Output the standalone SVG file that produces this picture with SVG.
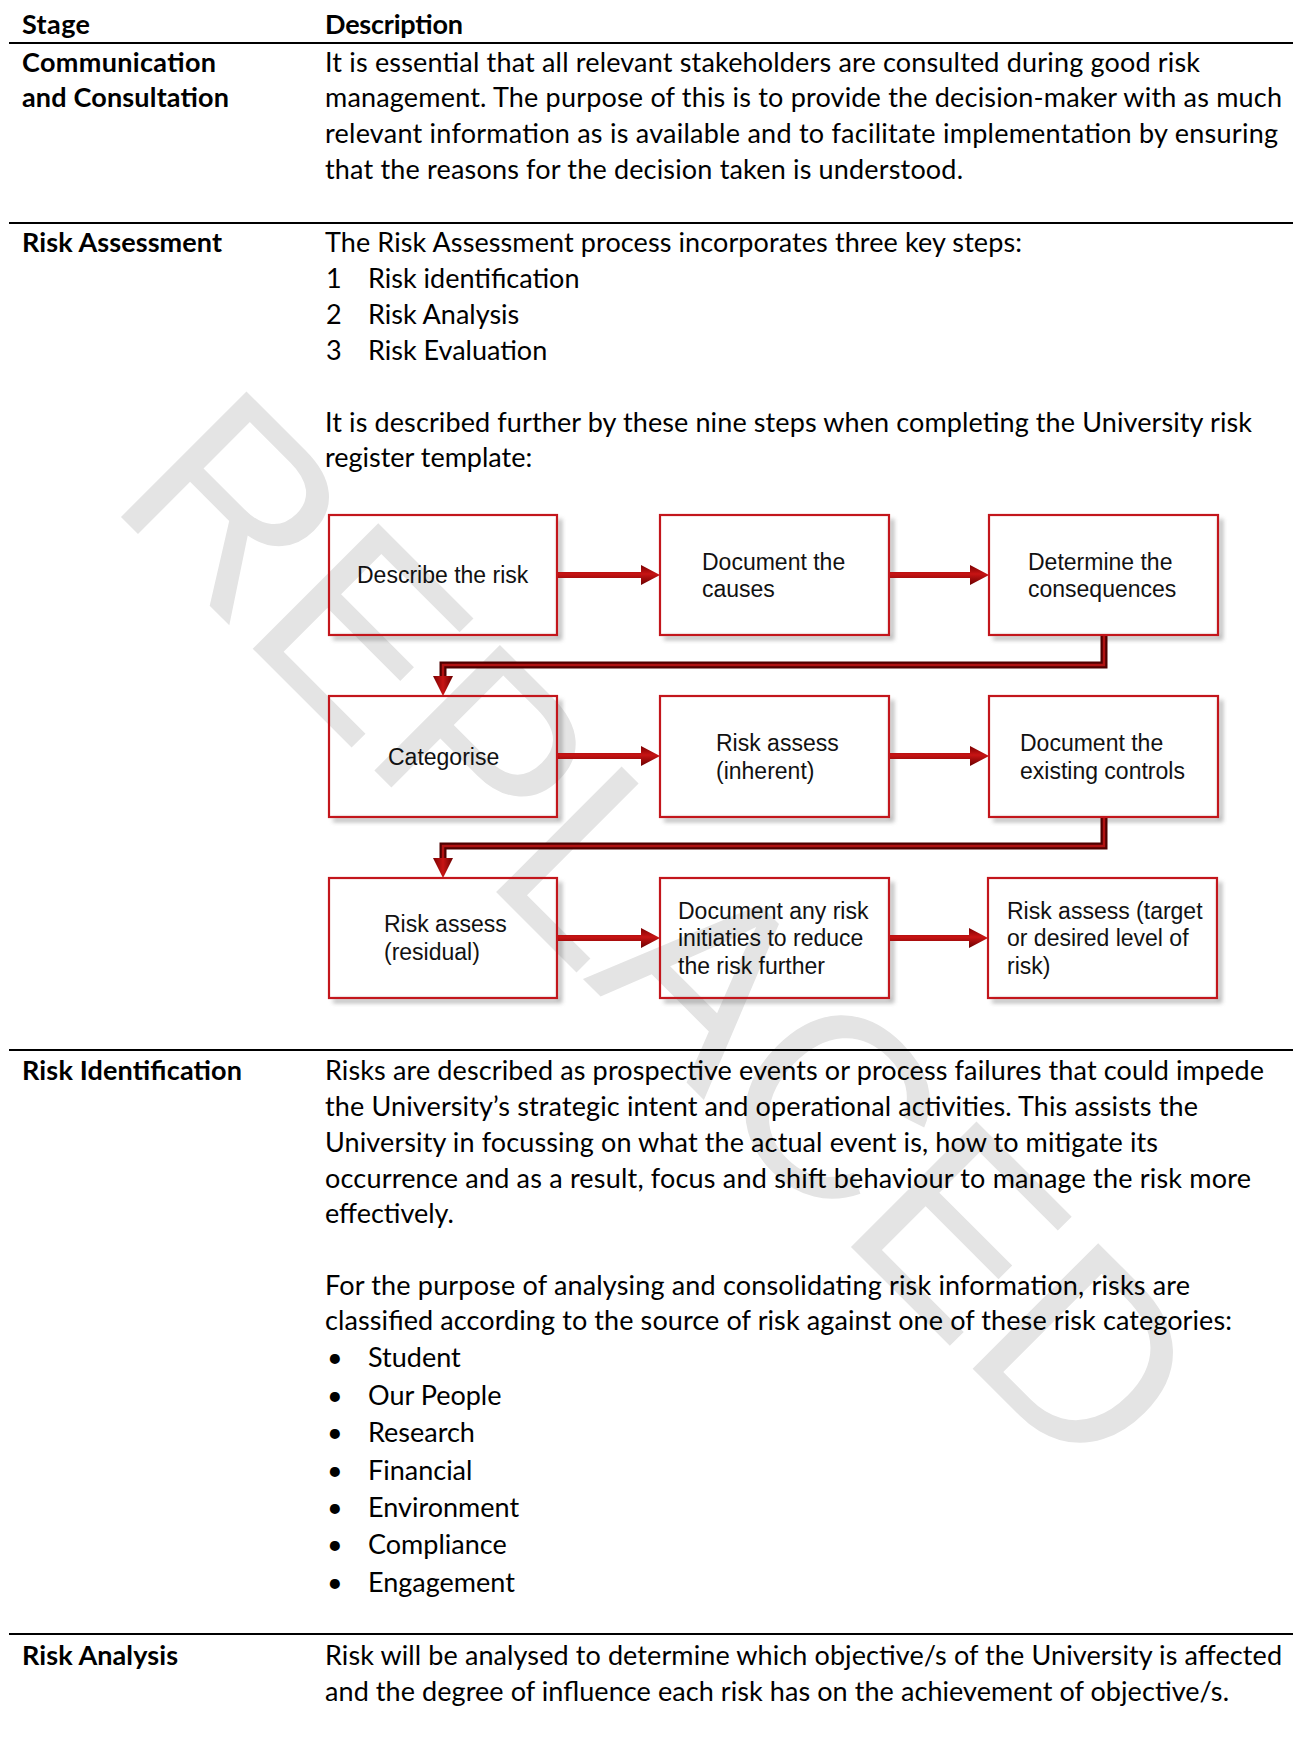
<svg xmlns="http://www.w3.org/2000/svg" width="1293" height="1738" viewBox="0 0 1293 1738">
<style>
.t{font-family:Lato,"Liberation Sans",sans-serif;font-size:27px;fill:#000}
.b{font-weight:700}
.bx{font-family:"Liberation Sans",Arial,sans-serif;font-size:23px;fill:#111}
.rule{stroke:#000;stroke-width:2.2}
.box{fill:none;stroke:#c3161c;stroke-width:2.2}
.shd{fill:none;stroke:#777;stroke-width:4;opacity:.55;filter:url(#blur)}
.arr{fill:url(#ag)}
.elo{fill:none;stroke:#4e0000;stroke-width:7;stroke-linejoin:miter}
.eli{fill:none;stroke:#b01212;stroke-width:2.5;stroke-linejoin:miter}
.wm{font-family:"Liberation Sans",Arial,sans-serif;font-size:258px;fill:#e4e4e4}
</style>
<defs>
<filter id="blur" x="-10%" y="-10%" width="120%" height="120%"><feGaussianBlur stdDeviation="2"/></filter>
<linearGradient id="ag" x1="0" y1="0" x2="0" y2="1">
<stop offset="0" stop-color="#7a0000"/>
<stop offset="0.45" stop-color="#c81414"/>
<stop offset="1" stop-color="#6a0000"/>
</linearGradient>
<linearGradient id="dg" x1="0" y1="0" x2="1" y2="0">
<stop offset="0" stop-color="#7a0000"/>
<stop offset="0.5" stop-color="#c81414"/>
<stop offset="1" stop-color="#6a0000"/>
</linearGradient>
</defs>
<rect width="1293" height="1738" fill="#fff"/>

<g id="watermark">
<text class="wm" transform="translate(106,502) rotate(45)">REPLACED</text>
</g>

<g id="table-rules">
<line class="rule" x1="9" y1="43" x2="1293" y2="43"/>
<line class="rule" x1="9" y1="223" x2="1293" y2="223"/>
<line class="rule" x1="9" y1="1050" x2="1293" y2="1050"/>
<line class="rule" x1="9" y1="1634" x2="1293" y2="1634"/>
</g>

<g id="header">
<text class="t b" x="22" y="34" textLength="68">Stage</text>
<text class="t b" x="325" y="34" textLength="138">Description</text>
</g>

<g id="row-communication">
<text class="t b" x="22" y="72" textLength="194">Communication</text>
<text class="t b" x="22" y="107" textLength="207">and Consultation</text>
<text class="t" x="325" y="72" textLength="875">It is essential that all relevant stakeholders are consulted during good risk</text>
<text class="t" x="325" y="107" textLength="957">management. The purpose of this is to provide the decision-maker with as much</text>
<text class="t" x="325" y="143" textLength="953">relevant information as is available and to facilitate implementation by ensuring</text>
<text class="t" x="325" y="179" textLength="638">that the reasons for the decision taken is understood.</text>
</g>

<g id="row-assessment">
<text class="t b" x="22" y="252" textLength="200">Risk Assessment</text>
<text class="t" x="325" y="252" textLength="697">The Risk Assessment process incorporates three key steps:</text>
<text class="t" x="326" y="288">1</text>
<text class="t" x="368" y="288">Risk identification</text>
<text class="t" x="326" y="324">2</text>
<text class="t" x="368" y="324">Risk Analysis</text>
<text class="t" x="326" y="360">3</text>
<text class="t" x="368" y="360">Risk Evaluation</text>
<text class="t" x="325" y="432" textLength="927">It is described further by these nine steps when completing the University risk</text>
<text class="t" x="325" y="467">register template:</text>
</g>

<g id="shadows">
<path class="shd" d="M333,638 H560 V519"/>
<path class="shd" d="M664,638 H892 V519"/>
<path class="shd" d="M993,638 H1221 V519"/>
<path class="shd" d="M333,820 H560 V700"/>
<path class="shd" d="M664,820 H892 V700"/>
<path class="shd" d="M993,820 H1221 V700"/>
<path class="shd" d="M333,1001 H560 V882"/>
<path class="shd" d="M664,1001 H892 V882"/>
<path class="shd" d="M992,1001 H1220 V882"/>
</g>

<g id="connectors">
<path class="arr" d="M557,572 H641 V565 L660,575 L641,585 V578 H557 Z"/>
<path class="arr" d="M889,572 H970 V565 L989,575 L970,585 V578 H889 Z"/>
<path class="arr" d="M557,753 H641 V746 L660,756 L641,766 V759 H557 Z"/>
<path class="arr" d="M889,753 H970 V746 L989,756 L970,766 V759 H889 Z"/>
<path class="arr" d="M557,935 H641 V928 L660,938 L641,948 V941 H557 Z"/>
<path class="arr" d="M889,935 H969 V928 L988,938 L969,948 V941 H889 Z"/>
<path class="elo" d="M1104,635 V665 H443 V678"/>
<path class="eli" d="M1104,635 V665 H443 V678"/>
<path fill="url(#dg)" d="M433,676 H453 L443,696 Z"/>
<path class="elo" d="M1104,817 V846 H443 V860"/>
<path class="eli" d="M1104,817 V846 H443 V860"/>
<path fill="url(#dg)" d="M433,858 H453 L443,878 Z"/>
</g>

<g id="node-describe">
<rect class="box" x="329" y="515" width="228" height="120"/>
<text class="bx" x="357" y="583">Describe the risk</text>
</g>
<g id="node-causes">
<rect class="box" x="660" y="515" width="229" height="120"/>
<text class="bx" x="702" y="570">Document the</text>
<text class="bx" x="702" y="597">causes</text>
</g>
<g id="node-consequences">
<rect class="box" x="989" y="515" width="229" height="120"/>
<text class="bx" x="1028" y="570">Determine the</text>
<text class="bx" x="1028" y="597">consequences</text>
</g>
<g id="node-categorise">
<rect class="box" x="329" y="696" width="228" height="121"/>
<text class="bx" x="388" y="765">Categorise</text>
</g>
<g id="node-inherent">
<rect class="box" x="660" y="696" width="229" height="121"/>
<text class="bx" x="716" y="751">Risk assess</text>
<text class="bx" x="716" y="779">(inherent)</text>
</g>
<g id="node-controls">
<rect class="box" x="989" y="696" width="229" height="121"/>
<text class="bx" x="1020" y="751">Document the</text>
<text class="bx" x="1020" y="779">existing controls</text>
</g>
<g id="node-residual">
<rect class="box" x="329" y="878" width="228" height="120"/>
<text class="bx" x="384" y="932">Risk assess</text>
<text class="bx" x="384" y="960">(residual)</text>
</g>
<g id="node-initiatives">
<rect class="box" x="660" y="878" width="229" height="120"/>
<text class="bx" x="678" y="919">Document any risk</text>
<text class="bx" x="678" y="946">initiaties to reduce</text>
<text class="bx" x="678" y="974">the risk further</text>
</g>
<g id="node-target">
<rect class="box" x="988" y="878" width="229" height="120"/>
<text class="bx" x="1007" y="919">Risk assess (target</text>
<text class="bx" x="1007" y="946">or desired level of</text>
<text class="bx" x="1007" y="974">risk)</text>
</g>

<g id="row-identification">
<text class="t b" x="22" y="1080" textLength="220">Risk Identification</text>
<text class="t" x="325" y="1080" textLength="939">Risks are described as prospective events or process failures that could impede</text>
<text class="t" x="325" y="1116" textLength="873">the University’s strategic intent and operational activities. This assists the</text>
<text class="t" x="325" y="1152" textLength="833">University in focussing on what the actual event is, how to mitigate its</text>
<text class="t" x="325" y="1188" textLength="926">occurrence and as a result, focus and shift behaviour to manage the risk more</text>
<text class="t" x="325" y="1223">effectively.</text>
<text class="t" x="325" y="1295" textLength="865">For the purpose of analysing and consolidating risk information, risks are</text>
<text class="t" x="325" y="1330" textLength="907">classified according to the source of risk against one of these risk categories:</text>
<text class="t" x="327" y="1367">•</text><text class="t" x="368" y="1367">Student</text>
<text class="t" x="327" y="1405">•</text><text class="t" x="368" y="1405">Our People</text>
<text class="t" x="327" y="1442">•</text><text class="t" x="368" y="1442">Research</text>
<text class="t" x="327" y="1480">•</text><text class="t" x="368" y="1480">Financial</text>
<text class="t" x="327" y="1517">•</text><text class="t" x="368" y="1517">Environment</text>
<text class="t" x="327" y="1554">•</text><text class="t" x="368" y="1554">Compliance</text>
<text class="t" x="327" y="1592">•</text><text class="t" x="368" y="1592">Engagement</text>
</g>

<g id="row-analysis">
<text class="t b" x="22" y="1665" textLength="156">Risk Analysis</text>
<text class="t" x="325" y="1665" textLength="957">Risk will be analysed to determine which objective/s of the University is affected</text>
<text class="t" x="325" y="1701" textLength="904">and the degree of influence each risk has on the achievement of objective/s.</text>
</g>
</svg>
